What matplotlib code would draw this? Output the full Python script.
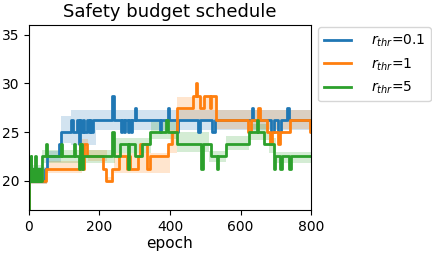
import numpy as np
import matplotlib.pyplot as plt

plt.rcParams["font.size"] = 10

# step schedules: epoch where a level starts, and the level
blue_x = [0, 1, 46, 50, 84, 91, 119, 124, 137, 141, 145, 149, 153, 157, 165, 169, 173, 177, 183,
          236, 241, 262, 265, 269, 272, 280, 283, 290, 293, 300, 304, 371, 375, 393, 398,
          420, 424, 480, 485, 520, 527, 632, 636, 686, 695, 705, 714, 733, 737, 800]
blue_y = [17, 20, 21.25, 22.5, 23.75, 25, 26.25, 25, 26.25, 23.75, 26.25, 25, 26.25, 25, 26.25, 25, 26.25, 25, 26.25,
          28.75, 26.25, 25, 26.25, 25, 26.25, 25, 26.25, 25, 26.25, 27.5, 26.25, 25, 26.25, 27.5, 26.25,
          25, 26.25, 25, 26.25, 25, 26.25, 27.5, 26.25, 25, 26.25, 25, 26.25, 27.5, 26.25, 26.25]

orange_x = [0, 1, 49, 146, 150, 156, 166, 211, 218, 235, 254, 277, 283, 287, 310, 316, 336, 343,
            394, 405, 420, 466, 474, 478, 484, 496, 513, 517, 530, 621, 631, 651, 656, 676,
            684, 689, 707, 711, 739, 798, 800]
orange_y = [17, 20, 21.25, 23.75, 21.25, 23.75, 22.5, 21.25, 20, 21.25, 22.5, 21.25, 22.5, 21.25, 22.5, 23.75, 21.25, 22.5,
            23.75, 25, 27.5, 28.75, 30, 28.75, 27.5, 28.75, 27.5, 28.75, 26.25, 25, 26.25, 27.5, 26.25, 25,
            23.75, 25, 23.75, 25, 26.25, 25, 25]

green_x = [0, 1, 3, 5, 7, 9, 11, 13, 15, 17, 19, 21, 23, 25, 27, 29, 31, 33, 36, 47, 52, 90, 94,
           128, 132, 142, 146, 150, 154, 236, 241, 259,
           281, 285, 300, 320, 343, 390, 395, 420, 488, 493, 515, 532, 537, 560, 625, 646, 651,
           667, 694, 699, 713, 718, 738, 743, 800]
green_y = [17, 20, 21.25, 22.5, 20, 21.25, 20, 21.25, 20, 22.5, 21.25, 20, 21.25, 20, 21.25, 20, 21.25, 20, 22.5, 23.75, 22.5, 23.75, 22.5,
           23.75, 22.5, 21.25, 23.75, 21.25, 22.5, 25, 22.5, 23.75,
           21.25, 23.75, 22.5, 23.75, 25, 26.25, 25, 23.75, 21.25, 23.75, 22.5, 21.25, 22.5, 23.75, 25, 26.25, 25,
           23.75, 21.25, 22.5, 21.25, 22.5, 21.25, 22.5, 22.5]

# spread bands (coarser steps): start epoch, lower, upper
blue_bx = [0, 50, 90, 118, 190, 800]
blue_lo = [19.7, 21.9, 23.9, 23.7, 25.2, 25.2]
blue_hi = [21.4, 23.1, 26.6, 27.3, 27.3, 27.3]

orange_bx = [0, 50, 150, 168, 220, 240, 400, 420, 530, 800]
orange_lo = [19.7, 20.8, 23.3, 22.0, 19.8, 20.8, 22.8, 26.3, 25.3, 25.3]
orange_hi = [20.4, 22.0, 24.3, 23.2, 20.4, 22.9, 25.2, 28.6, 27.3, 27.3]

green_bx = [0, 38, 245, 345, 420, 510, 560, 625, 680, 700, 800]
green_lo = [19.8, 21.8, 22.9, 24.3, 23.0, 21.9, 23.2, 24.2, 22.9, 21.8, 21.8]
green_hi = [21.6, 23.2, 24.4, 26.2, 25.0, 23.1, 24.6, 25.8, 24.4, 23.0, 23.0]

labels = [r"$r_{thr}$=0.1", r"$r_{thr}$=1", r"$r_{thr}$=5"]
colors = ["#1f77b4", "#ff7f0e", "#2ca02c"]

fig = plt.figure(figsize=(4.32, 2.57), dpi=100)
ax = fig.add_axes([0.067, 0.183, 0.653, 0.72])

series = [(blue_x, blue_y, blue_bx, blue_lo, blue_hi),
          (orange_x, orange_y, orange_bx, orange_lo, orange_hi),
          (green_x, green_y, green_bx, green_lo, green_hi)]

for (sx, sy, bx, lo, hi), lab, c in zip(series, labels, colors):
    ax.fill_between(bx, lo, hi, step="post", color=c, alpha=0.2, linewidth=0)
    ax.plot(sx, sy, drawstyle="steps-post", color=c, lw=2, label=lab)

ax.set_xlim(0, 800)
ax.set_ylim(17, 36)
ax.set_xticks([0, 200, 400, 600, 800])
ax.set_yticks([20, 25, 30, 35])
ax.set_xlabel("epoch", fontsize=11, labelpad=2)
ax.set_title("Safety budget schedule", fontsize=13)
ax.legend(loc="upper left", bbox_to_anchor=(1.01, 1.01), borderaxespad=0.3,
          fontsize=10, handletextpad=1.4)

fig.savefig("out.png", dpi=100)
